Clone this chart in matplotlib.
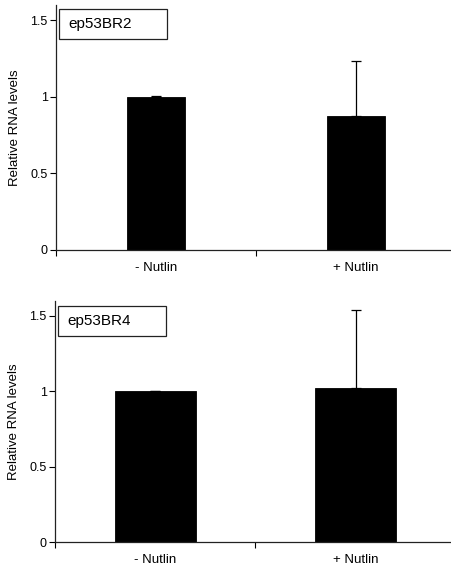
import matplotlib
matplotlib.use("Agg")
import matplotlib.pyplot as plt
from matplotlib.patches import Rectangle

plt.rcParams['font.family'] = ['Liberation Sans', 'DejaVu Sans']

categories = ["- Nutlin", "+ Nutlin"]
cell_lines = ["ep53BR2", "ep53BR4"]
values = {
    "ep53BR2": [1.0, 0.873],
    "ep53BR4": [1.0, 1.019],
}
errors = {
    "ep53BR2": [0.004, 0.36],
    "ep53BR4": [0.004, 0.517],
}
yticks = [0, 0.5, 1, 1.5]
ytick_labels = ["0", "0.5", "1", "1.5"]

W, H = 452, 565
fig = plt.figure(figsize=(W / 100, H / 100), dpi=100)

# panel geometry in pixels: (left, top, width, height, bar width, box y range)
panels = [
    dict(left=56, top=5, width=400, height=244.7, bar_w=0.29, box=(0.982, 0.861)),
    dict(left=55, top=300.7, width=401, height=241.6, bar_w=0.405, box=(0.977, 0.854)),
]

for name, p in zip(cell_lines, panels):
    ax = fig.add_axes([p["left"] / W, 1 - (p["top"] + p["height"]) / H,
                       p["width"] / W, p["height"] / H])
    x = list(range(len(categories)))
    ax.bar(x, values[name], width=p["bar_w"], color="black", edgecolor="black",
           linewidth=0.6, zorder=2)
    ax.errorbar(x, values[name], yerr=[[0, 0], errors[name]], fmt="none",
                ecolor="black", elinewidth=0.9, capsize=3.5, capthick=0.9, zorder=3)
    ax.set_xlim(-0.5, 1.5)
    ax.set_ylim(0, 1.6)
    ax.set_yticks(yticks)
    ax.set_yticklabels(ytick_labels, fontsize=9)
    ax.set_xticks(x)
    ax.set_xticklabels(categories, fontsize=9.5)
    ax.set_xticks([-0.5, 0.5, 1.5], minor=True)
    ax.tick_params(axis="x", which="major", length=0, pad=8.5)
    ax.tick_params(axis="x", which="minor", length=4, width=0.8, direction="out")
    ax.tick_params(axis="y", length=4, width=0.8, direction="out", pad=2)
    for s in ("top", "right"):
        ax.spines[s].set_visible(False)
    for s in ("left", "bottom"):
        ax.spines[s].set_linewidth(0.9)
        ax.spines[s].set_color("#222222")
    ax.set_ylabel("Relative RNA levels", fontsize=9.5)
    ax.yaxis.set_label_coords(-0.088, 0.5)
    y0, y1 = p["box"]
    ax.add_patch(Rectangle((0.0075, y1), 0.27, y0 - y1, transform=ax.transAxes,
                           facecolor="white", edgecolor="#222222", linewidth=0.9,
                           zorder=4, clip_on=False))
    ax.text(0.031, (y0 + y1) / 2, name, transform=ax.transAxes, fontsize=11,
            va="center", ha="left", zorder=5)

fig.savefig("out.png", dpi=100)
